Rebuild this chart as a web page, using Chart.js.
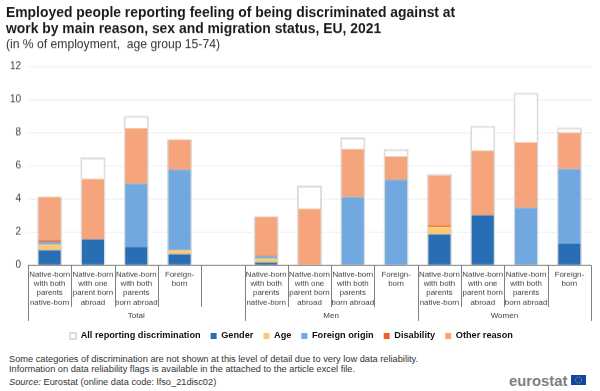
<!DOCTYPE html>
<html>
<head>
<meta charset="utf-8">
<script src="https://cdn.jsdelivr.net/npm/chart.js@4"></script>
<style>
html,body{margin:0;padding:0;background:#fff;}
#wrap{position:relative;width:600px;height:391px;overflow:hidden;font-family:"Liberation Sans",Arial,sans-serif;}
#box{position:absolute;left:0;top:0;width:600px;height:349.5px;}
.note{position:absolute;left:9px;font-size:9.25px;line-height:11px;color:#333;white-space:nowrap;}
#logo{position:absolute;left:509px;top:373px;font-size:14.8px;font-weight:bold;line-height:16px;color:#7f7f7f;}
#flag{position:absolute;left:571px;top:375px;}
</style>
</head>
<body>
<div id="wrap">
<div id="box"><canvas id="chart"></canvas></div>
<div class="note" style="top:354px">Some categories of discrimination are not shown at this level of detail due to very low data reliability.</div>
<div class="note" style="top:364px">Information on data reliability flags is available in the attached to the article excel file.</div>
<div class="note" style="top:377px"><i>Source:</i> Eurostat (online data code: lfso_21disc02)</div>
<div id="logo">eurostat</div>
<svg id="flag" width="15" height="10"><rect width="15" height="10" fill="#0e47a1"/><circle cx="7.5" cy="5" r="3" fill="none" stroke="#d9c62a" stroke-width="0.8" stroke-dasharray="0.8 0.8"/></svg>
</div>
<script>
const nb = ['Native-born', 'with both', 'parents', 'native-born'];
const one = ['Native-born', 'with one', 'parent born', 'abroad'];
const ab = ['Native-born', 'with both', 'parents', 'born abroad'];
const fb = ['Foreign-', 'born'];
const categories = [nb, one, ab, fb, '', nb, one, ab, fb, nb, one, ab, fb];

const allReporting = [4.1, 6.5, 9.0, 7.6, null, 2.95, 4.8, 7.7, 7.0, 5.5, 8.4, 10.4, 8.3];
const gender = [0.9, 1.55, 1.1, 0.65, null, 0.15, null, null, null, 1.85, 3.0, null, 1.3];
const age = [0.35, null, null, 0.25, null, 0.25, null, null, null, 0.45, null, null, null];
const foreignOrigin = [0.15, null, 3.8, 4.85, null, 0.15, null, 4.1, 5.15, null, null, 3.45, 4.5];
const disability = [0.1, null, null, null, null, 0.05, null, null, null, 0.1, null, null, null];
const otherReason = [2.6, 3.65, 3.35, 1.8, null, 2.3, 3.4, 2.9, 1.4, 3.0, 3.9, 3.95, 2.2];

const groups = [['Total', 0, 4], ['Men', 5, 8], ['Women', 9, 12]];
const yTicks = [0, 2, 4, 6, 8, 10, 12];

const groupAxis = {
    id: 'groupAxis',
    afterLayout(chart) {
        // legend sits a bit left of centre in the original
        chart.legend.left -= 7;
        chart.legend.right -= 7;
    },
    afterDraw(chart) {
        const ctx = chart.ctx, x = chart.scales.x, y0 = chart.scales.y.getPixelForValue(0);
        const slot = x.getPixelForValue(1) - x.getPixelForValue(0);
        ctx.save();
        ctx.strokeStyle = '#808080';
        ctx.lineWidth = 1;
        ctx.beginPath();
        ctx.moveTo(x.left, Math.round(y0) + 0.5);
        ctx.lineTo(x.right, Math.round(y0) + 0.5);
        for (let i = 0; i <= categories.length; i++) {
            const px = Math.round(x.getPixelForValue(i) - slot / 2) + 0.5;
            const isEdge = i === 0 || groups.some(g => g[2] + 1 === i);
            ctx.moveTo(px, y0);
            ctx.lineTo(px, isEdge ? 320 : 306);
        }
        ctx.stroke();
        ctx.fillStyle = '#404040';
        ctx.font = '8px "Liberation Sans"';
        ctx.textAlign = 'center';
        ctx.textBaseline = 'middle';
        groups.forEach(g => {
            const mid = (x.getPixelForValue(g[1]) + x.getPixelForValue(g[2])) / 2;
            ctx.fillText(g[0], mid, 315);
        });
        ctx.restore();
    }
};

new Chart(document.getElementById('chart'), {
    type: 'bar',
    plugins: [groupAxis],
    data: {
        labels: categories,
        datasets: [
            {label: 'All reporting discrimination', data: allReporting, stack: 'all', order: 2, backgroundColor: '#ffffff', borderColor: '#dcdcdc', borderWidth: 2, barPercentage: 0.58},
            {label: 'Gender', data: gender, stack: 'parts', order: 1, backgroundColor: '#286eb4', barPercentage: 0.51},
            {label: 'Age', data: age, stack: 'parts', order: 1, backgroundColor: '#fcc975', barPercentage: 0.51},
            {label: 'Foreign origin', data: foreignOrigin, stack: 'parts', order: 1, backgroundColor: '#71a8df', barPercentage: 0.51},
            {label: 'Disability', data: disability, stack: 'parts', order: 1, backgroundColor: '#f06423', barPercentage: 0.51},
            {label: 'Other reason', data: otherReason, stack: 'parts', order: 1, backgroundColor: '#f6a47b', barPercentage: 0.51}
        ]
    },
    options: {
        responsive: true,
        maintainAspectRatio: false,
        animation: false,
        grouped: false,
        categoryPercentage: 1,
        layout: {padding: {left: 6, right: 9, top: 0, bottom: 0}},
        scales: {
            x: {
                stacked: true,
                afterFit(scale) { scale.height = 56; },
                grid: {display: false, drawTicks: false, tickLength: 0},
                border: {display: false},
                ticks: {
                    autoSkip: false, maxRotation: 0, minRotation: 0, padding: 5,
                    color: '#404040',
                    font: {family: '"Liberation Sans"', size: 7.9, lineHeight: 1.16}
                }
            },
            y: {
                stacked: true,
                min: 0,
                max: 12,
                afterFit(scale) { scale.width = 22; },
                afterBuildTicks(scale) { scale.ticks = yTicks.map(v => ({value: v})); },
                border: {display: false, dash: [1, 1]},
                grid: {color: '#dedede', tickLength: 0, drawTicks: false},
                ticks: {padding: 7, color: '#404040', font: {family: '"Liberation Sans"', size: 10}}
            }
        },
        plugins: {
            tooltip: {enabled: false},
            title: {
                display: true,
                align: 'start',
                color: '#1a1a1a',
                text: ['Employed people reporting feeling of being discriminated against at', 'work by main reason, sex and migration status, EU, 2021'],
                font: {family: '"Liberation Sans"', size: 13.9, weight: 'bold', lineHeight: 1.15},
                padding: {top: 5, bottom: 0.5}
            },
            subtitle: {
                display: true,
                align: 'start',
                color: '#333',
                text: '(in % of employment,  age group 15-74)',
                font: {family: '"Liberation Sans"', size: 12.15, lineHeight: 1.2},
                padding: {top: 0, bottom: 14}
            },
            legend: {
                display: true,
                position: 'bottom',
                labels: {
                    boxWidth: 6, boxHeight: 6, padding: 10, color: '#111',
                    sort: (a, b) => a.datasetIndex - b.datasetIndex,
                    font: {family: '"Liberation Sans"', size: 9.2, weight: 'bold'}
                }
            }
        }
    }
});
</script>
</body>
</html>
